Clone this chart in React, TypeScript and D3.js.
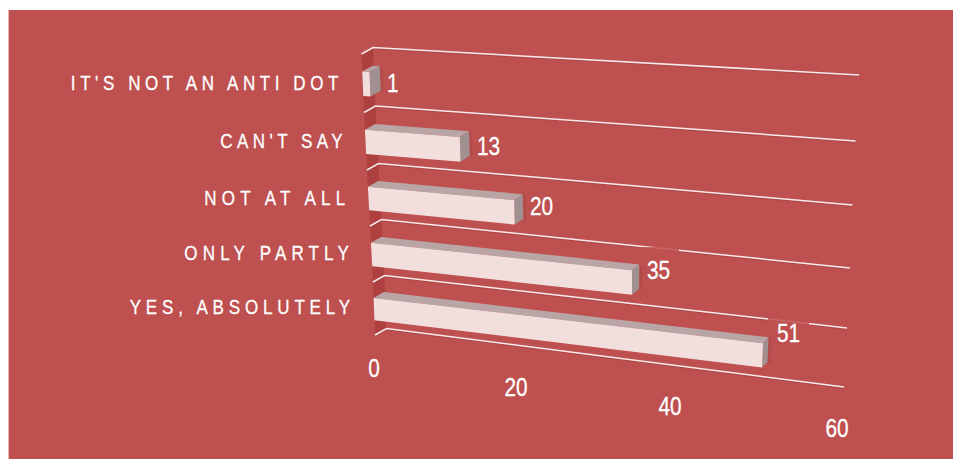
import React from "react";
import * as d3 from "d3";

const categories = ["IT'S NOT AN ANTI DOT", "CAN'T SAY", "NOT AT ALL", "ONLY PARTLY", "YES, ABSOLUTELY"];
const values = [1, 13, 20, 35, 51];
const ticks = [0, 20, 40, 60];

const W = 954, H = 459;
const frontLeftX = [361.5, 364, 367, 370, 373, 375];
const frontLeftY = [54, 112.5, 170, 226, 282, 335];
const backRightX = [859, 855.5, 852.5, 850, 847, 844];
const backRightY = [75, 141, 205, 268, 328, 387];

const lineIdx = d3.range(6);
const flx = d3.scaleLinear<number>().domain(lineIdx).range(frontLeftX);
const fly = d3.scaleLinear<number>().domain(lineIdx).range(frontLeftY);
const brx = d3.scaleLinear<number>().domain(lineIdx).range(backRightX);
const bry = d3.scaleLinear<number>().domain(lineIdx).range(backRightY);
const depthX = d3.scaleLinear().domain([0, 1]).range([11.5, 5]);
const depthY = d3.scaleLinear().domain([0, 1]).range([-6.5, -6.5]);
const valueScale = d3.scaleLinear().domain([0, 60]).range([0, 1]);
const warp = (v: number) => { const s = valueScale(v); return (s * (1 - 0.12)) / (1 - 0.12 * s); };

// v: value, t: position across gridlines, d: 0 front plane, 1 back plane
function project(v: number, t: number, d: number): [number, number] {
  const u = warp(v);
  const x0 = flx(t), y0 = fly(t);
  const x1 = brx(t) - depthX(1), y1 = bry(t) - depthY(1);
  return [x0 + (x1 - x0) * u + depthX(u) * d, y0 + (y1 - y0) * u + depthY(u) * d];
}
const poly = (pts: [number, number][]) => d3.line()(pts) + "Z";

const labelEnd = [343, 347, 350.5, 354, 355];
const labelBase = [90, 148, 205, 260, 314];
const labelSpacing = [5.4, 5.25, 6.2, 6.1, 5.7];
const valueX = [387, 477, 530, 647, 777];
const valueBase = [92, 155, 215, 279, 342];
const tickX = [374, 516, 670, 837];
const tickBase = [377, 396, 415, 437];
const sans = "'Liberation Sans',sans-serif";

export default function App() {
  return (
    <svg width={W} height={H} style={{ position: "absolute", left: 0, top: 0, background: "#fff" }}>
      <rect x={8} y={10} width={1.5} height={449} fill="#eeb8b4" />
      <rect x={9} y={10} width={944} height={449} fill="#be504f" />
      {d3.range(5).map((i) => (
        <path key={i} fill="#ae4140"
          d={poly([project(0, i, 0), project(0, i, 1), project(0, i + 1, 1), project(0, i + 1, 0)])} />
      ))}
      {lineIdx.map((i) => (
        <g key={i}>
          <path fill="none" stroke="#8f3a3a" strokeOpacity={0.35} strokeWidth={1}
            transform="translate(0,1.4)"
            d={d3.line()([project(0, i, 0), project(0, i, 1), project(60, i, 1)])!} />
          <path fill="none" stroke="#f6eaea" strokeWidth={1.5}
            d={d3.line()([project(0, i, 0), project(0, i, 1), project(60, i, 1)])!} />
        </g>
      ))}
      {values.map((v, i) => i >= 3 ? (
        <rect key={i} x={valueX[i] - 9} y={valueBase[i] - 32} width={41} height={40} fill="#be504f" fillOpacity={0.85} />
      ) : null)}
      {values.map((v, i) => {
        const a = 0.3, b = 0.72, t = i + a, u = i + b;
        const d = 0.9;
        return (
          <g key={i}>
            <path fill="#8f3a3a" fillOpacity={0.25}
              d={poly([project(v, t, d), [project(v, t, d)[0] + 3, project(v, t, d)[1] + 2], [project(v, u, d)[0] + 3, project(v, u, d)[1] + 2], project(v, u, d)])} />
            <path fill="#b9a5a5" d={poly([project(0, t, 0), project(0, t, d), project(v, t, d), project(v, t, 0)])} />
            <path fill="#a09090" d={poly([project(v, t, 0), project(v, t, d), project(v, u, d), project(v, u, 0)])} />
            <path fill="#f2dfdd" d={poly([project(0, t, 0), project(v, t, 0), project(v, u, 0), project(0, u, 0)])} />
          </g>
        );
      })}
      {categories.map((c, i) => (
        <text key={c} transform={`translate(${labelEnd[i]},${labelBase[i]}) scale(0.85,1)`} textAnchor="end" fill="#fff"
          stroke="#fff" strokeWidth={0.3}
          fontFamily={sans} fontSize={20} style={{ letterSpacing: `${labelSpacing[i]}px` }}>{c}</text>
      ))}
      {values.map((v, i) => (
        <text key={i} transform={`translate(${valueX[i]},${valueBase[i]}) scale(0.8,1)`} fill="#fff" stroke="#fff" strokeWidth={0.3} fontFamily={sans} fontSize={26}>{v}</text>
      ))}
      {ticks.map((v, i) => (
        <text key={v} transform={`translate(${tickX[i]},${tickBase[i]}) scale(0.8,1)`} textAnchor="middle" fill="#fff" stroke="#fff" strokeWidth={0.3} fontFamily={sans} fontSize={26}>{v}</text>
      ))}
    </svg>
  );
}
